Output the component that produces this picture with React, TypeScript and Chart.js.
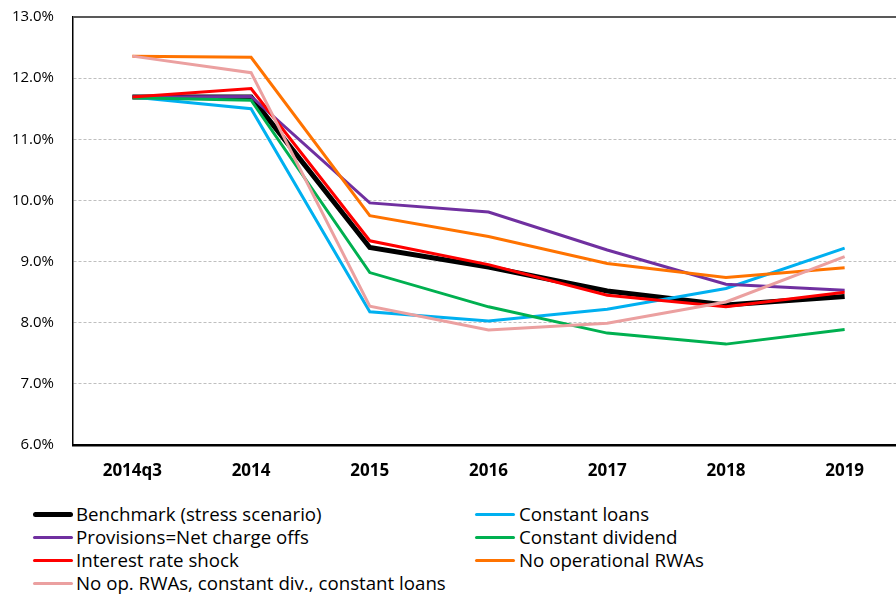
import React, { useEffect, useRef } from "react";
import { Chart, registerables } from "chart.js";

Chart.register(...registerables);

const categories = ["2014q3", "2014", "2015", "2016", "2017", "2018", "2019"];

const seriesNames = [
  "Benchmark (stress scenario)",
  "Constant loans",
  "Provisions=Net charge offs",
  "Constant dividend",
  "Interest rate shock",
  "No operational RWAs",
  "No op. RWAs, constant div., constant loans",
];

const benchmark = [11.69, 11.69, 9.23, 8.91, 8.52, 8.29, 8.43];
const constantLoans = [11.69, 11.5, 8.18, 8.03, 8.22, 8.56, 9.22];
const provisions = [11.69, 11.7, 9.96, 9.81, 9.19, 8.63, 8.53];
const constantDividend = [11.68, 11.64, 8.82, 8.26, 7.83, 7.65, 7.89];
const interestRateShock = [11.69, 11.83, 9.34, 8.95, 8.45, 8.26, 8.5];
const noOperationalRWAs = [12.36, 12.34, 9.75, 9.41, 8.97, 8.74, 8.9];
const noOpConstDivConstLoans = [12.36, 12.09, 8.27, 7.88, 7.99, 8.34, 9.08];

const seriesValues = [
  benchmark,
  constantLoans,
  provisions,
  constantDividend,
  interestRateShock,
  noOperationalRWAs,
  noOpConstDivConstLoans,
];

const seriesColors = ["#000000", "#00B0F0", "#7030A0", "#00B050", "#FF0000", "#FF7300", "#EBA0A0"];
const seriesWidths = [5, 3, 3, 3, 3, 3, 3];

const yMin = 6;
const yMax = 13;
const yStep = 1;

const FONT = "'Open Sans', 'Noto Sans', sans-serif";

const topBorderPlugin = {
  id: "topBorder",
  beforeDatasetsDraw(chart: any) {
    const { ctx, chartArea } = chart;
    ctx.save();
    ctx.strokeStyle = "#595959";
    ctx.lineWidth = 2;
    ctx.beginPath();
    ctx.moveTo(chartArea.left, chartArea.top);
    ctx.lineTo(chartArea.right, chartArea.top);
    ctx.stroke();
    ctx.restore();
  },
};

export default function App() {
  const canvasRef = useRef<HTMLCanvasElement | null>(null);

  useEffect(() => {
    if (!canvasRef.current) return;
    const chart = new Chart(canvasRef.current, {
      type: "line",
      plugins: [topBorderPlugin],
      data: {
        labels: categories,
        datasets: seriesValues.map((vals, i) => ({
          label: seriesNames[i],
          data: vals,
          borderColor: seriesColors[i],
          backgroundColor: seriesColors[i],
          borderWidth: seriesWidths[i],
          pointRadius: 0,
          pointHoverRadius: 0,
          tension: 0,
          fill: false,
          order: seriesValues.length - i,
        })),
      },
      options: {
        animation: false,
        responsive: true,
        maintainAspectRatio: false,
        layout: { padding: { top: 17, left: 0, right: 0, bottom: 0 } },
        plugins: {
          legend: { display: false },
          tooltip: { enabled: false },
        },
        scales: {
          x: {
            offset: true,
            grid: { display: false, drawTicks: false, offset: true },
            border: { display: true, color: "#000000", width: 2.5 },
            ticks: {
              color: "#000000",
              font: { family: FONT, size: 17, weight: "bold" },
              padding: 16,
              maxRotation: 0,
              autoSkip: false,
            },
            afterFit: (scale: any) => {
              scale.height = 45;
              scale.paddingLeft = 0;
              scale.paddingRight = 0;
            },
          },
          y: {
            min: yMin,
            max: yMax,
            ticks: {
              stepSize: yStep,
              color: "#000000",
              font: { family: FONT, size: 15 },
              padding: 19,
              callback: (v: any) => Number(v).toFixed(1) + "%",
            },
            grid: {
              drawTicks: false,
              color: (ctx: any) => {
                const v = ctx.tick ? ctx.tick.value : null;
                if (v === yMin || v === yMax) return "rgba(0,0,0,0)";
                return "#BFBFBF";
              },
            },
            border: { display: true, color: "#000000", width: 1.5, dash: [3, 2] },
            afterFit: (scale: any) => {
              scale.width = 73;
              scale.paddingTop = 0;
              scale.paddingBottom = 0;
            },
          },
        },
      },
    });
    return () => chart.destroy();
  }, []);

  return (
    <div
      style={{
        position: "absolute",
        left: 0,
        top: 0,
        width: 896,
        height: 594,
        overflow: "hidden",
        background: "#ffffff",
      }}
    >
      <div style={{ position: "absolute", left: 0, top: 0, width: 904, height: 490 }}>
        <canvas ref={canvasRef} />
      </div>
      {seriesNames.map((name, i) => {
        const col = i % 2;
        const row = Math.floor(i / 2);
        const lineLeft = col === 0 ? 33 : 475;
        const textLeft = col === 0 ? 76 : 519;
        const cy = 514 + row * 23;
        return (
          <React.Fragment key={name}>
            <div
              style={{
                position: "absolute",
                left: lineLeft,
                top: cy - seriesWidths[i] / 2,
                width: 40,
                height: seriesWidths[i],
                background: seriesColors[i],
                borderRadius: seriesWidths[i] / 2,
              }}
            />
            <div
              style={{
                position: "absolute",
                left: textLeft,
                top: cy - 13,
                height: 26,
                lineHeight: "26px",
                fontFamily: FONT,
                fontSize: 18.7,
                color: "#000000",
                whiteSpace: "nowrap",
              }}
            >
              {name}
            </div>
          </React.Fragment>
        );
      })}
    </div>
  );
}
